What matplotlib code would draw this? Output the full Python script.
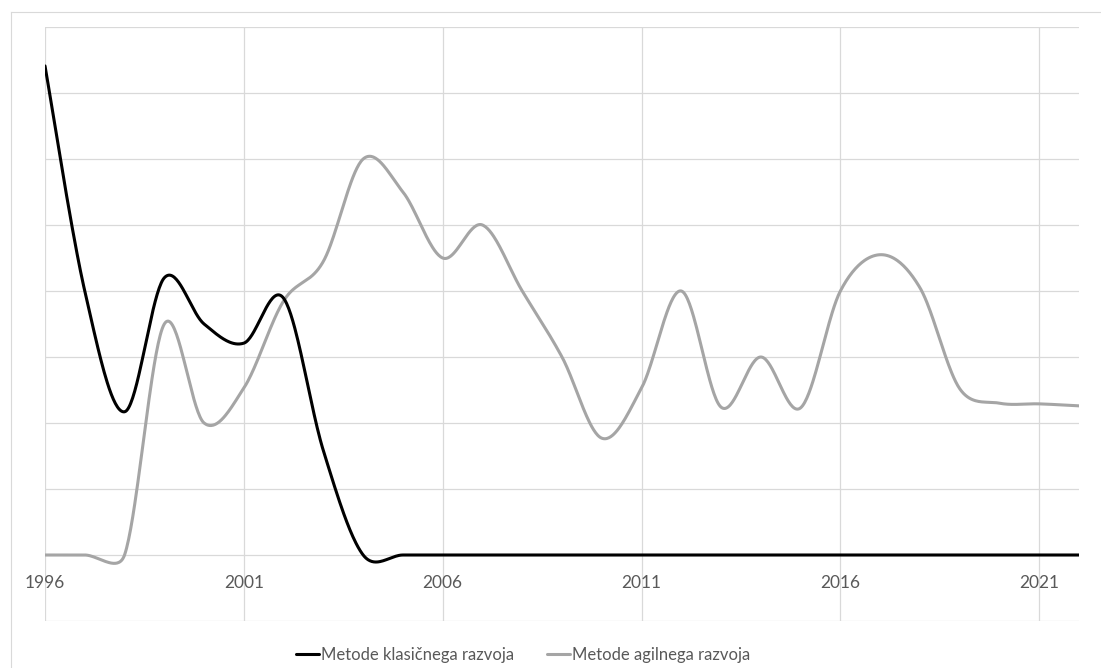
import numpy as np
import matplotlib
matplotlib.use("Agg")
import matplotlib.pyplot as plt
from matplotlib.lines import Line2D

plt.rcParams['font.family'] = ['Lato', 'DejaVu Sans']

years = list(range(1996, 2023))
tick_years = [1996, 2001, 2006, 2011, 2016, 2021]

classic = [7.41, 4.0, 2.17, 4.2, 3.5, 3.21, 3.89, 1.58, 0, 0, 0, 0, 0, 0,
           0, 0, 0, 0, 0, 0, 0, 0, 0, 0, 0, 0, 0]
agile = [0, 0, 0, 3.5, 2.0, 2.53, 3.85, 4.45, 6.0, 5.5, 4.5, 5.0, 4.0, 3.0,
         1.77, 2.53, 4.0, 2.24, 3.0, 2.23, 4.0, 4.55, 4.05, 2.52, 2.3, 2.29, 2.26]

labels = ["Metode klasičnega razvoja", "Metode agilnega razvoja"]
colors = ["#000000", "#a5a5a5"]

W, H = 1101, 668
AX_L, AX_R, AX_T, AX_B = 45, 1079, 27, 621
X0, X1, Y0, Y1 = 1996, 2022, -1, 8
SX = (AX_R - AX_L) / (X1 - X0)   # pixels per year
SY = (AX_B - AX_T) / (Y1 - Y0)   # pixels per value unit


def smooth(xs, ys, n=40):
    """Bezier smoothing through every point; control handles are built in
    screen space and capped at half the length of their own segment."""
    px = np.asarray(xs, float) * SX
    py = np.asarray(ys, float) * SY
    P = np.column_stack([px, py])
    m = len(P)
    t = np.linspace(0, 1, n)[:, None]
    out = []
    for i in range(m - 1):
        a, b = P[i], P[i + 1]
        prev = P[i - 1] if i > 0 else P[i]
        nxt = P[i + 2] if i + 2 < m else P[i + 1]
        seg = np.linalg.norm(b - a)
        d1 = (b - prev) / 6
        d2 = (nxt - a) / 6
        for d in (d1, d2):
            L = np.linalg.norm(d)
            if L > seg / 2 and L > 0:
                d *= (seg / 2) / L
        c1 = a + d1
        c2 = b - d2
        pts = ((1 - t) ** 3) * a + 3 * ((1 - t) ** 2) * t * c1 + 3 * (1 - t) * t ** 2 * c2 + t ** 3 * b
        out.append(pts)
    pts = np.vstack(out)
    return pts[:, 0] / SX, pts[:, 1] / SY


fig = plt.figure(figsize=(W / 100, H / 100), dpi=100)

# outer chart frame (left and top edges visible)
fig.add_artist(Line2D([11 / W, 11 / W], [0, 1 - 12 / H], color="#d9d9d9", lw=0.8))
fig.add_artist(Line2D([11 / W, 1], [1 - 12 / H, 1 - 12 / H], color="#d9d9d9", lw=0.8))

ax = fig.add_axes([AX_L / W, 1 - AX_B / H, (AX_R - AX_L) / W, (AX_B - AX_T) / H])
ax.set_xlim(X0, X1)
ax.set_ylim(Y0, Y1)
for s in ax.spines.values():
    s.set_visible(False)
ax.set_xticks([])
ax.set_yticks([])

grid_c = "#d9d9d9"
for v in range(Y0, Y1 + 1):
    ax.axhline(v, color=grid_c, lw=0.9, zorder=0)
for yr in tick_years:
    ax.axvline(yr, color=grid_c, lw=0.9, zorder=0)

for yr in tick_years:
    ax.text(yr, -0.43, str(yr), ha="center", va="center", fontsize=12.5, color="#595959")

handles = []
for vals, col, lab, z in [(agile, colors[1], labels[1], 2), (classic, colors[0], labels[0], 3)]:
    sx, sy = smooth(years, vals)
    ln, = ax.plot(sx, sy, color=col, lw=2.2, solid_capstyle="round",
                  solid_joinstyle="round", zorder=z, label=lab)
    handles.append(ln)

handles = handles[::-1]
fig.legend(handles, labels, loc="center", bbox_to_anchor=(523 / W, 1 - 655 / H),
           ncol=2, frameon=False, fontsize=12, labelcolor="#595959",
           handlelength=1.4, handletextpad=0.1, columnspacing=2.0,
           borderpad=0, borderaxespad=0)

fig.savefig("out.png", dpi=100)
